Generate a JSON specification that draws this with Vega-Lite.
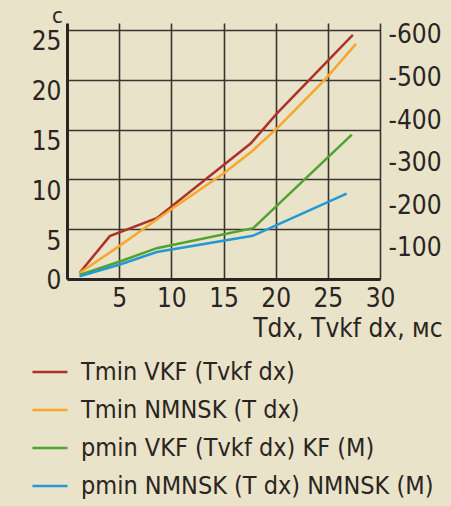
{
  "$schema": "https://vega.github.io/schema/vega-lite/v6.json",
  "autosize": {"type": "none"},
  "padding": {"left": 67, "top": 23, "right": 71, "bottom": 227},
  "width": 313,
  "height": 256,
  "background": "#e9e3c9",
  "config": {
    "font": "Liberation Sans Narrow, DejaVu Sans Condensed, Liberation Sans",
    "view": {"stroke": null},
    "axis": {"labelFont": "Liberation Sans Narrow, DejaVu Sans Condensed, Liberation Sans", "titleFont": "Liberation Sans Narrow, DejaVu Sans Condensed, Liberation Sans", "labelColor": "#2a2522", "titleColor": "#2a2522", "titleFontWeight": "normal"},
    "legend": {"labelFont": "Liberation Sans Narrow, DejaVu Sans Condensed, Liberation Sans"}
  },
  "datasets": {
    "lines": [
      {"series": "Tmin VKF (Tvkf dx)", "axis": "left", "x": 1.2, "y": 0.6},
      {"series": "Tmin VKF (Tvkf dx)", "axis": "left", "x": 4.1, "y": 4.3},
      {"series": "Tmin VKF (Tvkf dx)", "axis": "left", "x": 8.6, "y": 6.1},
      {"series": "Tmin VKF (Tvkf dx)", "axis": "left", "x": 17.6, "y": 13.6},
      {"series": "Tmin VKF (Tvkf dx)", "axis": "left", "x": 20.1, "y": 16.6},
      {"series": "Tmin VKF (Tvkf dx)", "axis": "left", "x": 27.4, "y": 24.5},
      {"series": "Tmin NMNSK (T dx)", "axis": "left", "x": 1.2, "y": 0.6},
      {"series": "Tmin NMNSK (T dx)", "axis": "left", "x": 5, "y": 3.3},
      {"series": "Tmin NMNSK (T dx)", "axis": "left", "x": 10, "y": 7.0},
      {"series": "Tmin NMNSK (T dx)", "axis": "left", "x": 15, "y": 10.6},
      {"series": "Tmin NMNSK (T dx)", "axis": "left", "x": 17.7, "y": 12.8},
      {"series": "Tmin NMNSK (T dx)", "axis": "left", "x": 20.1, "y": 15.1},
      {"series": "Tmin NMNSK (T dx)", "axis": "left", "x": 24.7, "y": 20.0},
      {"series": "Tmin NMNSK (T dx)", "axis": "left", "x": 27.7, "y": 23.6},
      {"series": "pmin VKF (Tvkf dx) KF (M)", "axis": "right", "x": 1.2, "y": -36},
      {"series": "pmin VKF (Tvkf dx) KF (M)", "axis": "right", "x": 5, "y": -67},
      {"series": "pmin VKF (Tvkf dx) KF (M)", "axis": "right", "x": 8.6, "y": -99},
      {"series": "pmin VKF (Tvkf dx) KF (M)", "axis": "right", "x": 17.85, "y": -146},
      {"series": "pmin VKF (Tvkf dx) KF (M)", "axis": "right", "x": 27.3, "y": -366},
      {"series": "pmin NMNSK (T dx) NMNSK (M)", "axis": "right", "x": 1.2, "y": -33},
      {"series": "pmin NMNSK (T dx) NMNSK (M)", "axis": "right", "x": 5, "y": -60},
      {"series": "pmin NMNSK (T dx) NMNSK (M)", "axis": "right", "x": 8.6, "y": -90},
      {"series": "pmin NMNSK (T dx) NMNSK (M)", "axis": "right", "x": 17.8, "y": -128},
      {"series": "pmin NMNSK (T dx) NMNSK (M)", "axis": "right", "x": 26.8, "y": -227}
    ]
  },
  "data": {"name": "lines"},
  "encoding": {
    "x": {
      "field": "x", "type": "quantitative",
      "scale": {"domain": [0, 30], "nice": false, "zero": false},
      "axis": {
        "values": [5, 10, 15, 20, 25, 30],
        "grid": true, "gridColor": "#3a3430", "gridWidth": 1.6, "gridOpacity": 1,
        "domainColor": "#2a2522", "domainWidth": 3,
        "ticks": false, "labelPadding": 6, "labelFontSize": 26, "labelFlush": false,
        "title": "Tdx, Tvkf dx, мс", "titleFontSize": 26,
        "titleAlign": "right", "titleAnchor": "end", "titleX": 375, "titleY": 57, "titleBaseline": "alphabetic"
      }
    },
    "color": {
      "field": "series", "type": "nominal",
      "scale": {
        "domain": ["Tmin VKF (Tvkf dx)", "Tmin NMNSK (T dx)", "pmin VKF (Tvkf dx) KF (M)", "pmin NMNSK (T dx) NMNSK (M)"],
        "range": ["#ad3328", "#f6a72c", "#52a22e", "#2398d4"]
      },
      "legend": {
        "title": null, "orient": "none", "legendX": -36, "legendY": 330, "direction": "vertical",
        "symbolType": "stroke", "symbolSize": 1225, "symbolStrokeWidth": 2.5,
        "labelFontSize": 25, "labelColor": "#2a2522", "labelOffset": 12, "rowPadding": 6,
        "labelLimit": 420, "padding": 0
      }
    }
  },
  "layer": [
    {
      "transform": [{"filter": "datum.axis == 'left'"}],
      "mark": {"type": "line", "strokeWidth": 2.5},
      "encoding": {
        "y": {
          "field": "y", "type": "quantitative",
          "scale": {"domain": [0, 25.7], "nice": false, "zero": false},
          "axis": {
            "values": [0, 5, 10, 15, 20, 25],
            "grid": true, "gridColor": "#3a3430", "gridWidth": 1.6, "gridOpacity": 1,
            "domainColor": "#2a2522", "domainWidth": 3,
            "ticks": false, "labelPadding": 6, "labelFontSize": 26,
            "labelOffset": {"condition": {"test": "datum.value == 0", "value": 1}, "value": 12},
            "title": "с", "titleFontSize": 22, "titleAngle": 0, "titleAlign": "center",
            "titleX": -10, "titleY": -1, "titleBaseline": "alphabetic"
          }
        }
      }
    },
    {
      "transform": [{"filter": "datum.axis == 'right'"}],
      "mark": {"type": "line", "strokeWidth": 2.5},
      "encoding": {
        "y": {
          "field": "y", "type": "quantitative",
          "scale": {"domain": [-26.5, -628.2], "nice": false, "zero": false},
          "axis": {
            "orient": "right",
            "values": [-600, -500, -400, -300, -200, -100],
            "labelExpr": "'-' + format(-datum.value, 'd')",
            "grid": false, "domain": false, "ticks": false,
            "labelPadding": 8, "labelFontSize": 26, "title": null
          }
        }
      }
    }
  ],
  "resolve": {"scale": {"y": "independent"}}
}
